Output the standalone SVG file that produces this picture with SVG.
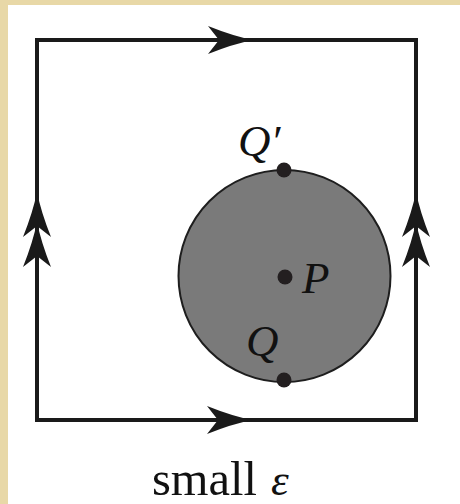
<svg xmlns="http://www.w3.org/2000/svg" xmlns:xlink="http://www.w3.org/1999/xlink" width="460" height="504" viewBox="0 0 460 504">
<style>
.edge{fill:none;stroke:#1a1a1a;stroke-width:4;stroke-linejoin:miter}
.ah{fill:#1a1a1a}
.dot{fill:#231f20}
.lbl{font-family:"Liberation Serif","DejaVu Serif",serif;font-style:italic;font-size:45px;fill:#111}
.cap{font-family:"Liberation Serif","DejaVu Serif",serif;font-size:48px;fill:#111}
</style>
<defs>
<path id="head" d="M0,0 Q-20,-4 -45,-14 L-34,0 L-45,14 Q-20,4 0,0 Z"/>
</defs>
<rect x="0" y="0" width="460" height="504" fill="#e8d8a7"/>
<rect x="8" y="5" width="452" height="499" fill="#ffffff"/>
<g id="connectors">
<rect class="edge" x="37" y="40" width="379" height="380"/>
<use href="#head" class="ah" transform="translate(253,40)"/>
<use href="#head" class="ah" transform="translate(252,420)"/>
<use href="#head" class="ah" transform="translate(37,192) rotate(-90)"/>
<use href="#head" class="ah" transform="translate(37,222) rotate(-90)"/>
<use href="#head" class="ah" transform="translate(416,192) rotate(-90)"/>
<use href="#head" class="ah" transform="translate(416,222) rotate(-90)"/>
</g>
<g id="disk">
<circle cx="284.5" cy="276" r="106" fill="#7a7a7a" stroke="#1e1e1e" stroke-width="2"/>
</g>
<g id="Qprime">
<circle class="dot" cx="284" cy="170" r="7.5"/>
<text class="lbl" x="238" y="156">Q′</text>
</g>
<g id="Q">
<circle class="dot" cx="284" cy="380" r="7.5"/>
<text class="lbl" x="246" y="356">Q</text>
</g>
<g id="P">
<circle class="dot" cx="285" cy="277" r="7.5"/>
<text class="lbl" x="302" y="293">P</text>
</g>
<g id="caption">
<text class="cap" x="152" y="495" textLength="105" lengthAdjust="spacingAndGlyphs">small</text>
<text class="lbl" x="271" y="495">ε</text>
</g>
</svg>
